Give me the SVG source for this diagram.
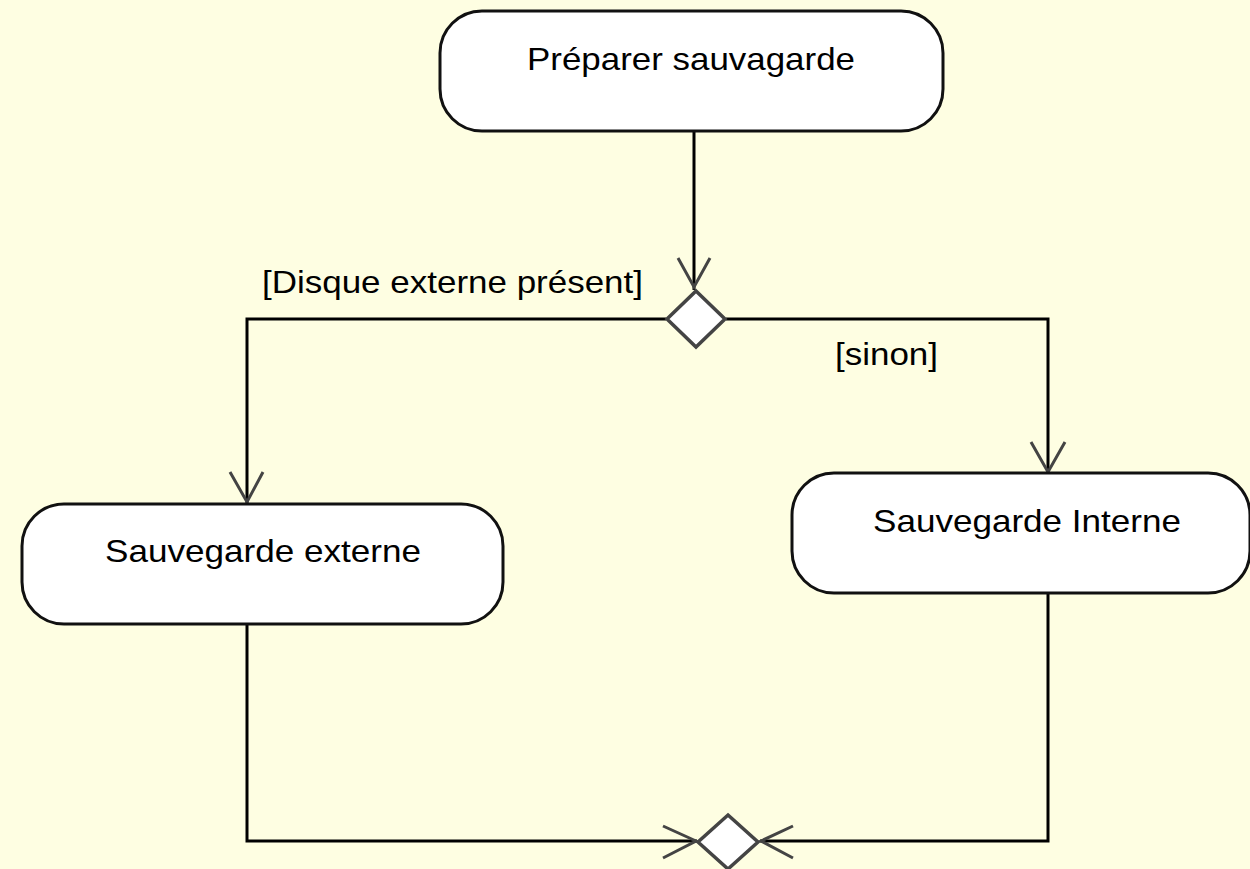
<svg xmlns="http://www.w3.org/2000/svg" width="1250" height="869" viewBox="0 0 1250 869">
<style>
.node{fill:#ffffff;stroke:#111;stroke-width:3}
.dec{fill:#ffffff;stroke:#444;stroke-width:3.5}
.t{font-family:"Liberation Sans",Arial,sans-serif;font-size:32px;fill:#000}
.edge{fill:none;stroke:#000;stroke-width:3}
.ah{fill:none;stroke:#444;stroke-width:3}
</style>
<rect width="1250" height="869" fill="#fefee2"/>
<g id="edges">
<polyline class="edge" points="694,131 694,290"/>
<polyline class="ah" points="678,258 694,287 710,258"/>
<polyline class="edge" points="666,319 247,319 247,503"/>
<polyline class="ah" points="230,472 247,502 263,472"/>
<polyline class="edge" points="726,319 1048,319 1048,473"/>
<polyline class="ah" points="1031,442 1048,472 1065,442"/>
<polyline class="edge" points="247,624 247,841 697,841"/>
<polyline class="ah" points="663,826 696,841 663,858"/>
<polyline class="edge" points="1048,593 1048,841 760,841"/>
<polyline class="ah" points="793,826 761,841 793,858"/>
</g>
<g id="n1">
<rect class="node" x="440" y="11" width="503" height="120" rx="42" ry="42"/>
<text class="t" x="527" y="70" textLength="328" lengthAdjust="spacingAndGlyphs">Préparer sauvagarde</text>
</g>
<g id="d1">
<polygon class="dec" points="696,291 725,319 696,347 667,319"/>
</g>
<g id="lbl1">
<text class="t" x="262" y="293" textLength="381" lengthAdjust="spacingAndGlyphs">[Disque externe présent]</text>
</g>
<g id="lbl2">
<text class="t" x="835" y="365" textLength="103" lengthAdjust="spacingAndGlyphs">[sinon]</text>
</g>
<g id="n2">
<rect class="node" x="22" y="504" width="481" height="120" rx="42" ry="42"/>
<text class="t" x="105" y="562" textLength="316" lengthAdjust="spacingAndGlyphs">Sauvegarde externe</text>
</g>
<g id="n3">
<rect class="node" x="792" y="473" width="458" height="120" rx="42" ry="42"/>
<text class="t" x="873" y="532" textLength="308" lengthAdjust="spacingAndGlyphs">Sauvegarde Interne</text>
</g>
<g id="d2">
<polygon class="dec" points="728,815 758,842 728,869 698,842"/>
</g>
</svg>
